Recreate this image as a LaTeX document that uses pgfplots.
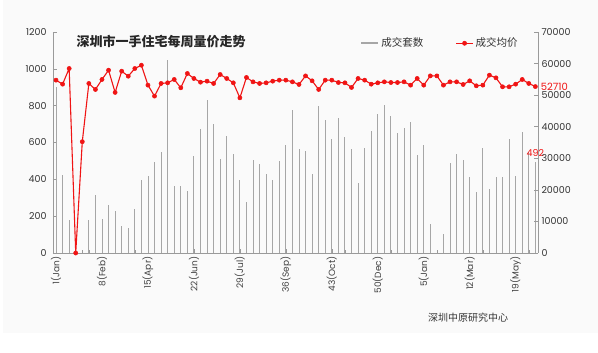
\documentclass[border=0pt]{standalone}
\usepackage{pgfplots}
\pgfplotsset{compat=1.18}
\usepackage{fontspec}
\setmainfont{Poppins}
\newfontfamily\cjk{Noto Sans CJK SC}

\definecolor{axgray}{HTML}{9A9A9A}
\definecolor{bargray}{HTML}{A6A6A6}
\definecolor{pricered}{HTML}{F01414}

\pgfplotstableread{
i v
0 900
1 425
2 181
3 0
4 0
5 181
6 316
7 184
8 258
9 230
10 145
11 137
12 240
13 398
14 416
15 495
16 546
17 1050
18 362
19 362
20 338
21 525
22 675
23 829
24 698
25 512
26 633
27 535
28 394
29 275
30 503
31 483
32 430
33 394
34 497
35 586
36 778
37 565
38 555
39 430
40 800
41 724
42 620
43 733
44 630
45 565
46 380
47 570
48 660
49 756
50 805
51 742
52 651
53 679
54 712
55 532
56 586
57 157
58 0
59 105
60 489
61 539
62 506
63 413
64 329
65 568
66 349
67 413
68 411
69 620
70 420
71 657
72 546
73 492
}\bars

\pgfplotstableread{
i p
0 54750
1 53480
2 58440
3 0
4 35250
5 53700
6 51800
7 54960
8 57900
9 50860
10 57590
11 56000
12 58440
13 59480
14 53170
15 49690
16 53700
17 53900
18 54960
19 52330
20 56860
21 55280
22 54110
23 54430
24 53700
25 56540
26 55280
27 53900
28 49150
29 55600
30 54210
31 53700
32 53900
33 54430
34 54750
35 54750
36 54210
37 53380
38 56100
39 54530
40 51800
41 54750
42 54750
43 54000
44 53900
45 52440
46 55280
47 54750
48 53480
49 53900
50 54210
51 54000
52 54000
53 54210
54 53170
55 55280
56 53170
57 56100
58 56100
59 53170
60 54210
61 54210
62 53380
63 54530
64 52960
65 53170
66 56330
67 55480
68 52640
69 52640
70 53480
71 54960
72 53700
73 52710
}\price

\begin{document}
\begin{tikzpicture}
\useasboundingbox (0pt,0pt) rectangle (598pt,353pt);
\fill[black!2] (3pt,20pt) rectangle (598pt,353pt);
\begin{axis}[
  at={(53pt,100pt)}, anchor=south west, scale only axis,
  width=485pt, height=221pt,
  xmin=-0.46, xmax=73.4, ymin=0, ymax=1200,
  axis x line*=bottom, axis y line*=left,
  axis line style={axgray, line width=0.8pt, -},
  xtick={0,7,...,70},
  xticklabels={1(Jan),8(Feb),15(Apr),22(Jun),29(Jul),36(Sep),43(Oct),50(Dec),5(Jan),12(Mar),19(May)},
  minor xtick={0,...,73},
  x tick label style={rotate=90, anchor=east, font=\fontsize{9}{10}\selectfont, text=black!75},
  ytick={0,200,...,1200},
  y tick label style={font=\fontsize{9.5}{10}\selectfont, text=black!80, xshift=-3pt},
  tick align=inside, major tick length=4pt, minor tick length=3pt,
  tick style={axgray, line width=0.6pt},
  /pgf/number format/assume math mode=true, /pgf/number format/1000 sep={},
  clip=false,
]
\addplot[ycomb, bargray, line width=0.9pt, mark=none] table[x=i, y=v] {\bars};
\node[pricered, anchor=south, font=\fontsize{9.5}{10}\selectfont, yshift=2pt] at (axis cs:73,492) {492};
\end{axis}
\begin{axis}[
  at={(53pt,100pt)}, anchor=south west, scale only axis,
  width=485pt, height=221pt,
  xmin=-0.46, xmax=73.4, ymin=0, ymax=70000,
  axis x line=none, axis y line*=right,
  axis line style={axgray, line width=0.8pt, -},
  ytick={0,10000,...,70000},
  y tick label style={font=\fontsize{9.5}{10}\selectfont, text=black!80},
  tick align=inside, major tick length=4pt,
  tick style={axgray, line width=0.6pt},
  /pgf/number format/assume math mode=true, /pgf/number format/1000 sep={},
  scaled y ticks=false,
  clip=false,
  legend style={at={(0.633,0.949)}, anchor=west, draw=none, fill=none, inner sep=0pt,
    font=\cjk\fontsize{10.5}{12}\selectfont, text=black!80,
    /tikz/every even column/.append style={column sep=30pt}},
  legend columns=2,
  legend cell align=left,
]
\addlegendimage{bargray, line width=2.2pt}
\addlegendentry{成交套数}
\addplot[pricered, line width=1.1pt, mark=*, mark size=2.1pt, mark options={fill=pricered, draw=pricered, line width=0.5pt}] table[x=i, y=p] {\price};
\addlegendentry{成交均价}
\node[pricered, anchor=west, font=\fontsize{10}{11}\selectfont, xshift=2pt] at (axis cs:73,52710) {52710};
\end{axis}
\node[anchor=west, font=\cjk\bfseries\fontsize{13}{15}\selectfont, text=black!85] at (73pt,311pt) {深圳市一手住宅每周量价走势};
\node[font=\cjk\fontsize{10}{12}\selectfont, text=black!80] at (468pt,35.3pt) {深圳中原研究中心};
\end{tikzpicture}
\end{document}
